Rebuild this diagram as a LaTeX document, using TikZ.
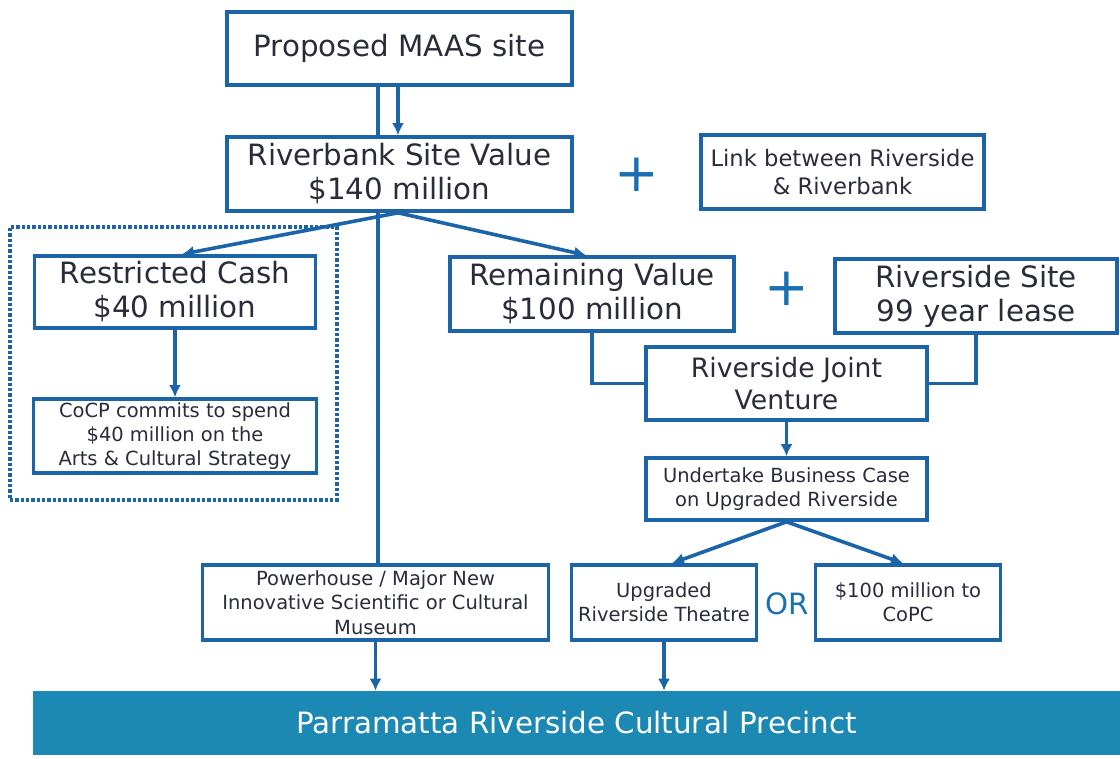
\documentclass[tikz,border=0pt]{standalone}
\usepackage{fontspec}
\setmainfont{DejaVu Sans}
\usetikzlibrary{arrows.meta,calc}
\definecolor{bblue}{RGB}{28,100,168}
\definecolor{pblue}{RGB}{24,112,178}
\definecolor{tcol}{RGB}{42,44,58}
\definecolor{barcol}{RGB}{28,136,180}
\begin{document}
\begin{tikzpicture}[x=0.75pt,y=-0.75pt,
  sz/.style 2 args={minimum width=#1*0.75pt,minimum height=#2*0.75pt},
  bx/.style={draw=bblue,line width=2.7pt,fill=white,inner sep=0pt,align=center,text=tcol},
  big/.style={font=\fontsize{22}{25.5}\selectfont},
  mid/.style={font=\fontsize{17}{21.5}\selectfont},
  rj/.style={font=\fontsize{20}{24}\selectfont},
  small/.style={font=\fontsize{14.6}{18.2}\selectfont},
  sign/.style={text=pblue,inner sep=0pt},
  ln/.style={draw=bblue,line width=2.7pt},
  arr/.style={ln,-{Latex[length=9pt,width=9pt]}},
  dotbox/.style={draw=bblue,line width=2.6pt,dash pattern=on 2.4pt off 1.6pt,inner sep=0pt}]
\useasboundingbox (0,0) rectangle (1120,758);

% frame around the restricted cash branch
\node[dotbox,sz={327}{273}] (group) at (173.5,363.5) {};

% boxes
\node[bx,big,sz={345}{73}] (maas) at (399.5,48.5) {Proposed MAAS site};
\node[bx,big,sz={345}{74}] (rbank) at (399.5,174) {Riverbank Site Value\\\$140 million};
\node[bx,mid,sz={283}{74}] (link) at (842.5,172) {Link between Riverside\\\& Riverbank};
\node[sign,font=\fontsize{40}{40}\selectfont] (plusa) at (637,175) {+};

\node[bx,big,sz={281}{72}] (rcash) at (175,292) {Restricted Cash\\\$40 million};
\node[bx,small,sz={283}{74}] (cocp) at (175,436) {CoCP commits to spend\\\$40 million on the\\Arts \& Cultural Strategy};

\node[bx,big,sz={284}{74}] (remv) at (592,294) {Remaining Value\\\$100 million};
\node[sign,font=\fontsize{40}{40}\selectfont] (plusb) at (787,289) {+};
\node[bx,big,sz={282}{74}] (rsite) at (976,296) {Riverside Site\\99 year lease};
\node[bx,rj,sz={281}{73}] (rjv) at (786.5,383.5) {Riverside Joint\\Venture};
\node[bx,small,sz={281}{62}] (under) at (786.5,489) {Undertake Business Case\\on Upgraded Riverside};

\node[bx,small,sz={346}{75}] (power) at (375.5,602.5) {Powerhouse / Major New\\Innovative Scientific or Cultural\\Museum};
\node[bx,small,sz={185}{75}] (upg) at (664,602.5) {Upgraded\\Riverside Theatre};
\node[sign,font=\fontsize{22}{22}\selectfont] (or) at (787,604) {OR};
\node[bx,small,sz={185}{75}] (cash) at (908,602.5) {\$100 million to\\CoPC};

\node[fill=barcol,inner sep=0pt,sz={1087}{64},text=white,big] (bar) at (576.5,723) {Parramatta Riverside Cultural Precinct};

% connectors
\coordinate (xl) at (378,0);
\coordinate (xa) at (398,0);
\draw[ln] (maas.south -| xl) -- (rbank.north -| xl);
\draw[ln] (rbank.south -| xl) -- (power.north -| xl);
\draw[arr] (maas.south -| xa) -- (rbank.north -| xa);
\draw[arr] (rbank.south -| xa) -- ($(rcash.north)+(7,0)$);
\draw[arr] (rbank.south -| xa) -- ($(remv.north)+(-6,0)$);
\draw[arr] (rcash.south) -- (cocp.north);
\draw[ln] (remv.south) |- (rjv.west);
\draw[ln] (rsite.south) |- (rjv.east);
\draw[arr] (rjv.south) -- (under.north);
\draw[arr] (under.south) -- ($(upg.north)+(8,0)$);
\draw[arr] (under.south) -- ($(cash.north)+(-5,0)$);
\draw[arr] (power.south) -- (power.south |- bar.north);
\draw[arr] (upg.south) -- (upg.south |- bar.north);
\end{tikzpicture}
\end{document}
